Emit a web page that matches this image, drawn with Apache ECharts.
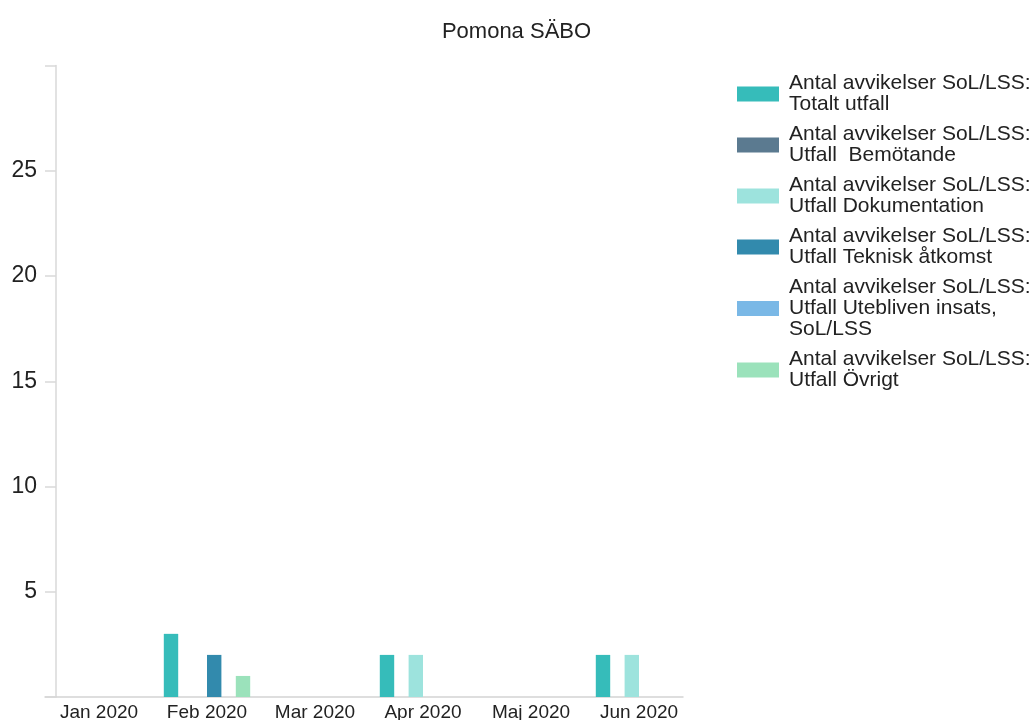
<!DOCTYPE html>
<html>
<head>
<meta charset="utf-8">
<script src="https://cdn.jsdelivr.net/npm/echarts@6/dist/echarts.min.js"></script>
<style>
    html, body { margin: 0; padding: 0; background: #fff; }
    #chart { width: 1033px; height: 720px; }
</style>
</head>
<body>
<div id="chart"></div>
<script>
var months = ['Jan 2020', 'Feb 2020', 'Mar 2020', 'Apr 2020', 'Maj 2020', 'Jun 2020'];
var seriesNames = [
    'Antal avvikelser SoL/LSS:\nTotalt utfall',
    'Antal avvikelser SoL/LSS:\nUtfall  Bemötande',
    'Antal avvikelser SoL/LSS:\nUtfall Dokumentation',
    'Antal avvikelser SoL/LSS:\nUtfall Teknisk åtkomst',
    'Antal avvikelser SoL/LSS:\nUtfall Utebliven insats,\nSoL/LSS',
    'Antal avvikelser SoL/LSS:\nUtfall Övrigt'
];
var totalt = [0, 3, 0, 2, 0, 2];
var bemotande = [0, 0, 0, 0, 0, 0];
var dokumentation = [0, 0, 0, 2, 0, 2];
var teknisk = [0, 2, 0, 0, 0, 0];
var utebliven = [0, 0, 0, 0, 0, 0];
var ovrigt = [0, 1, 0, 0, 0, 0];
var colors = ['#36bcba', '#5b7a90', '#9de3dd', '#328aad', '#7ab8e6', '#9be2bb'];

var chart = echarts.init(document.getElementById('chart'));
var font = 'Liberation Sans, Arial, sans-serif';
var values = [totalt, bemotande, dokumentation, teknisk, utebliven, ovrigt];

var option = {
    animation: false,
    color: colors,
    textStyle: { fontFamily: font },
    title: {
        text: 'Pomona SÄBO',
        left: 'center',
        top: 16,
        textStyle: { fontFamily: font, fontSize: 22, fontWeight: 'normal', color: '#222' }
    },
    legend: {
        orient: 'vertical',
        left: 737,
        top: 73,
        padding: 0,
        icon: 'rect',
        itemWidth: 42,
        itemHeight: 15,
        itemGap: 9,
        textStyle: { fontFamily: font, fontSize: 21, lineHeight: 21, color: '#222', padding: [0, 0, 0, 5] },
        data: seriesNames
    },
    // second grid only carries the shorter x axis line
    grid: [
        { left: 45, right: 340, top: 65.5, bottom: 23, outerBoundsMode: 'none' },
        { left: 45, right: 350, top: 65.5, bottom: 23, outerBoundsMode: 'none' }
    ],
    xAxis: [
        {
            type: 'category',
            gridIndex: 0,
            data: months,
            axisLine: { show: false },
            axisTick: { show: false },
            axisLabel: { fontFamily: font, fontSize: 19, color: '#222', margin: 6 }
        },
        {
            type: 'category',
            gridIndex: 1,
            data: months,
            axisLine: { show: true, lineStyle: { color: '#d4d4d4', width: 1.5 } },
            axisTick: { show: false },
            axisLabel: { show: false }
        }
    ],
    yAxis: [
        {
            type: 'value',
            gridIndex: 0,
            min: 0,
            max: 30,
            interval: 5,
            offset: -11,
            axisLine: { show: true, lineStyle: { color: '#d9d9d9', width: 1.5 } },
            axisTick: { show: true, length: 11, lineStyle: { color: '#d9d9d9', width: 1.5 } },
            splitLine: { show: false },
            axisLabel: {
                fontFamily: font,
                fontSize: 23,
                color: '#222',
                margin: 19,
                formatter: function (v) { return (v === 0 || v === 30) ? '' : v; }
            }
        },
        {
            type: 'value',
            gridIndex: 1,
            min: 0,
            max: 30,
            show: false
        }
    ],
    series: seriesNames.map(function (name, i) {
        return {
            name: name,
            type: 'bar',
            data: values[i],
            barGap: '0%',
            barCategoryGap: '20%'
        };
    })
};
chart.setOption(option);
</script>
</body>
</html>
